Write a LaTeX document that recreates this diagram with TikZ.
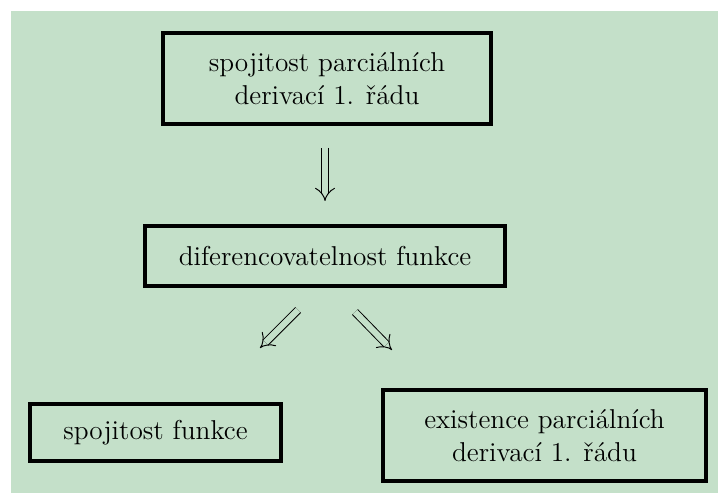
\documentclass[tikz,border=0pt]{standalone}
\usetikzlibrary{arrows.meta}
\definecolor{bggreen}{RGB}{196,224,201}
\begin{document}
\begin{tikzpicture}[x=0.418pt,y=-0.418pt,
  box/.style={draw=black, line width=1.3pt, align=center, inner sep=0pt,
    font=\fontsize{11.4}{14}\selectfont},
  impl/.style={double=bggreen, double distance=2.6pt, line width=0.4pt, -{Implies[scale=1.5]}}]
\useasboundingbox (0,0) rectangle (718,493);
\fill[bggreen] (11,11) rectangle (718,493);
\node[box, minimum width=328*0.418pt, minimum height=91*0.418pt] (top) at (327,78.5) {spojitost parciálních\\derivací 1. řádu};
\node[box, minimum width=360*0.418pt, minimum height=60*0.418pt] (mid) at (325,256) {diferencovatelnost funkce};
\node[box, minimum width=251*0.418pt, minimum height=57*0.418pt] (left) at (155.5,432.5) {spojitost funkce};
\node[box, minimum width=323*0.418pt, minimum height=91*0.418pt] (right) at (544.5,435.5) {existence parciálních\\derivací 1. řádu};
\coordinate (a0s) at (325,148);
\coordinate (a0e) at (325,201);
\coordinate (a1s) at (298,310);
\coordinate (a1e) at (260,348);
\coordinate (a2s) at (355,312);
\coordinate (a2e) at (392,350);
\draw[impl] (a0s) -- (a0e);
\draw[impl] (a1s) -- (a1e);
\draw[impl] (a2s) -- (a2e);
\end{tikzpicture}
\end{document}
